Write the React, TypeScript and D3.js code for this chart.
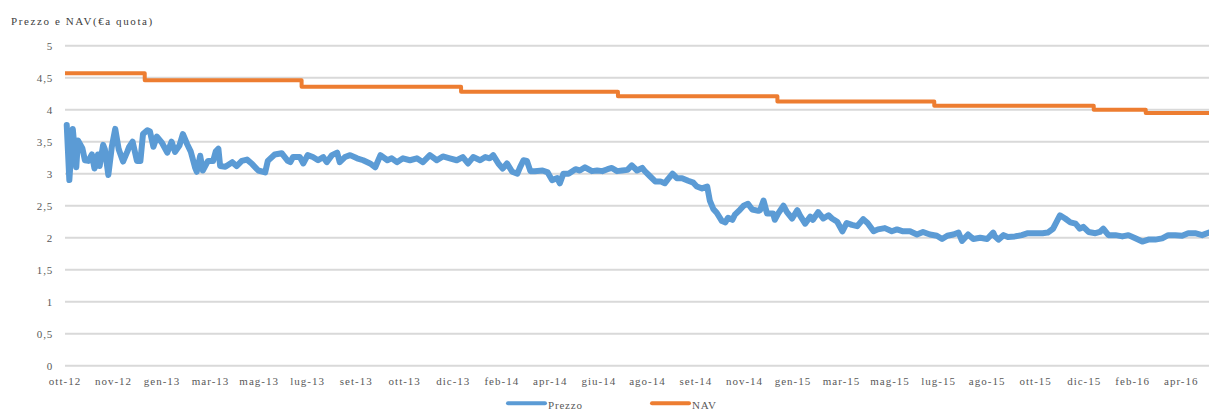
import React from 'react';
import * as d3 from 'd3';

const START = '2012-10-01';
const END_DAY = 1320;
const X_TICK_STEP_DAYS = 56;

const title = 'Prezzo e NAV(€a quota)';
const yTicks = [0, 0.5, 1, 1.5, 2, 2.5, 3, 3.5, 4, 4.5, 5];
const xTickLabels = [
  'ott-12', 'nov-12', 'gen-13', 'mar-13', 'mag-13', 'lug-13', 'set-13', 'ott-13',
  'dic-13', 'feb-14', 'apr-14', 'giu-14', 'ago-14', 'set-14', 'nov-14', 'gen-15',
  'mar-15', 'mag-15', 'lug-15', 'ago-15', 'ott-15', 'dic-15', 'feb-16', 'apr-16',
];
const seriesNames = ['Prezzo', 'NAV'];

// [days since START, price]
const price: [number, number][] = [
  [2, 3.76], [5, 2.9], [9, 3.7], [13, 3.1], [15, 3.52], [20, 3.4], [23, 3.21], [27, 3.2],
  [31, 3.3], [34, 3.08], [38, 3.3], [40, 3.12], [44, 3.45], [46, 3.38], [50, 2.98], [54, 3.42],
  [58, 3.7], [62, 3.38], [67, 3.19], [72, 3.35], [74, 3.42], [78, 3.5], [83, 3.2], [87, 3.2],
  [90, 3.62], [95, 3.68], [98, 3.66], [102, 3.42], [106, 3.58], [112, 3.48], [118, 3.33], [123, 3.5],
  [127, 3.34], [132, 3.44], [136, 3.62], [141, 3.46], [145, 3.35], [150, 3.1], [152, 3.03], [156, 3.28],
  [159, 3.05], [165, 3.2], [171, 3.2], [174, 3.35], [177, 3.39], [179, 3.12], [185, 3.11], [193, 3.18],
  [198, 3.12], [204, 3.2], [210, 3.22], [216, 3.15], [223, 3.05], [231, 3.02], [234, 3.2], [242, 3.3],
  [250, 3.32], [257, 3.2],
  [260, 3.18], [263, 3.26], [271, 3.26], [275, 3.16], [280, 3.29], [286, 3.26], [292, 3.21], [298, 3.26],
  [302, 3.18], [308, 3.29], [314, 3.33], [317, 3.18], [323, 3.26], [329, 3.29], [337, 3.24], [344, 3.21],
  [352, 3.16], [358, 3.1], [364, 3.29], [372, 3.21], [377, 3.24], [383, 3.18], [390, 3.24], [398, 3.21],
  [406, 3.24], [413, 3.18], [421, 3.29], [429, 3.21], [436, 3.27], [444, 3.24], [452, 3.21], [459, 3.26],
  [465, 3.16], [471, 3.26], [479, 3.21], [485, 3.26], [490, 3.24], [494, 3.29], [500, 3.16], [505, 3.08],
  [510, 3.16], [516, 3.03], [522, 3.0], [525, 3.1], [529, 3.21],
  [533, 3.2], [537, 3.04], [542, 3.04], [551, 3.05], [557, 3.02], [562, 2.9], [568, 2.93], [571, 2.85],
  [575, 3.0], [581, 3.0], [589, 3.07], [594, 3.05], [600, 3.1], [608, 3.04], [614, 3.05], [620, 3.04],
  [626, 3.07], [631, 3.09], [637, 3.04], [643, 3.05], [649, 3.06], [654, 3.13], [660, 3.05], [666, 3.09],
  [669, 3.04], [675, 2.96], [681, 2.88], [687, 2.88], [692, 2.85], [696, 2.92], [701, 3.0], [706, 2.93],
  [712, 2.93], [719, 2.89], [725, 2.86], [729, 2.8], [735, 2.77], [741, 2.8], [744, 2.58], [748, 2.45],
  [752, 2.39], [758, 2.26], [762, 2.24], [765, 2.31], [770, 2.28], [773, 2.36], [779, 2.44], [783, 2.5],
  [788, 2.53], [793, 2.44], [800, 2.42],
  [802, 2.43], [806, 2.58], [810, 2.38], [817, 2.38], [819, 2.28], [823, 2.38], [829, 2.5], [833, 2.4],
  [839, 2.3], [845, 2.43], [848, 2.35], [854, 2.22], [860, 2.33], [863, 2.28], [869, 2.4], [875, 2.3],
  [881, 2.35], [885, 2.3], [891, 2.25], [897, 2.1], [902, 2.23], [908, 2.2], [914, 2.18], [921, 2.29],
  [926, 2.23], [933, 2.1], [938, 2.13], [946, 2.15], [954, 2.1], [960, 2.13], [967, 2.1], [975, 2.1],
  [983, 2.05], [990, 2.09], [998, 2.05], [1006, 2.03], [1012, 1.98], [1018, 2.03], [1025, 2.05], [1031, 2.08],
  [1035, 1.95], [1042, 2.05], [1048, 1.98], [1056, 2.0], [1064, 1.98], [1071, 2.08],
  [1073, 2.02], [1077, 1.97], [1083, 2.04], [1088, 2.01], [1096, 2.02], [1104, 2.04], [1111, 2.07], [1119, 2.07],
  [1128, 2.07], [1134, 2.08], [1140, 2.14], [1145, 2.27], [1148, 2.35], [1154, 2.3], [1160, 2.24], [1166, 2.22],
  [1171, 2.14], [1175, 2.17], [1181, 2.09], [1189, 2.07], [1194, 2.09], [1198, 2.14], [1204, 2.04], [1212, 2.04],
  [1220, 2.02], [1227, 2.04], [1235, 1.99], [1243, 1.94], [1250, 1.97], [1258, 1.97], [1266, 1.99], [1273, 2.04],
  [1281, 2.04], [1289, 2.03], [1296, 2.07], [1304, 2.07], [1312, 2.04], [1320, 2.08],
];

const navDates = [
  '2012-10-01', '2013-01-01', '2013-07-01', '2014-01-01', '2014-07-01',
  '2015-01-01', '2015-07-01', '2016-01-01', '2016-03-01',
];
const navValues = [4.57, 4.46, 4.36, 4.28, 4.21, 4.13, 4.06, 4.0, 3.95];

const W = 1209;
const H = 410;
const FONT = "'Liberation Serif', 'DejaVu Serif', serif";
const BLUE = '#5B9BD5';
const ORANGE = '#ED7D31';
const GRID = '#D9D9D9';
const TEXT = '#595959';

export default function App() {
  const parse = d3.timeParse('%Y-%m-%d');
  const start = parse(START) as Date;
  const end = d3.timeDay.offset(start, END_DAY);

  const x = d3.scaleTime().domain([start, end]).range([65, 1209]);
  const y = d3.scaleLinear().domain([0, 5]).range([365.7, 45.7]);

  const priceLine = d3
    .line<[number, number]>()
    .x((d) => x(d3.timeDay.offset(start, d[0])))
    .y((d) => y(d[1]));

  const navData = navDates.map((d, i) => ({ date: parse(d) as Date, v: navValues[i] }));
  navData.push({ date: end, v: navValues[navValues.length - 1] });
  const navLine = d3
    .line<{ date: Date; v: number }>()
    .x((d) => x(d.date))
    .y((d) => y(d.v))
    .curve(d3.curveStepAfter);

  const xTicks = xTickLabels.map((label, i) => ({
    label,
    date: d3.timeDay.offset(start, i * X_TICK_STEP_DAYS),
  }));

  const fmt = (v: number) => String(v).replace('.', ',');
  const txt = { fontFamily: FONT, fontSize: 11 } as React.CSSProperties;

  return (
    <div style={{ position: 'absolute', left: 0, top: 0 }}>
      <svg width={W} height={H} style={{ display: 'block', background: '#fff' }}>
        <text x={11} y={25} style={txt} fill="#404040" letterSpacing={1.6}>
          {title}
        </text>
        <g>
          {yTicks.map((t) => (
            <g key={t}>
              <line x1={65} x2={W} y1={y(t)} y2={y(t)} stroke={GRID} strokeWidth={2} />
              <text
                x={53}
                y={y(t)}
                dy="0.35em"
                textAnchor="end"
                style={txt}
                fill={TEXT}
                letterSpacing={0.8}
              >
                {fmt(t)}
              </text>
            </g>
          ))}
        </g>
        <g>
          {xTicks.map((t) => (
            <text
              key={t.label}
              x={x(t.date)}
              y={385}
              textAnchor="middle"
              style={txt}
              fill={TEXT}
              letterSpacing={1}
            >
              {t.label}
            </text>
          ))}
        </g>
        <path
          d={priceLine(price) || ''}
          fill="none"
          stroke={BLUE}
          strokeWidth={6}
          strokeLinejoin="round"
          strokeLinecap="round"
        />
        <path
          d={navLine(navData) || ''}
          fill="none"
          stroke={ORANGE}
          strokeWidth={4}
          strokeLinejoin="round"
        />
        <g>
          <line x1={508} x2={545} y1={403.3} y2={403.3} stroke={BLUE} strokeWidth={4} strokeLinecap="round" />
          <text x={548} y={409} style={txt} fill={TEXT} letterSpacing={0.8}>
            {seriesNames[0]}
          </text>
          <line x1={652} x2={689} y1={403.3} y2={403.3} stroke={ORANGE} strokeWidth={4} strokeLinecap="round" />
          <text x={692} y={409} style={txt} fill={TEXT} letterSpacing={0.8}>
            {seriesNames[1]}
          </text>
        </g>
      </svg>
    </div>
  );
}
